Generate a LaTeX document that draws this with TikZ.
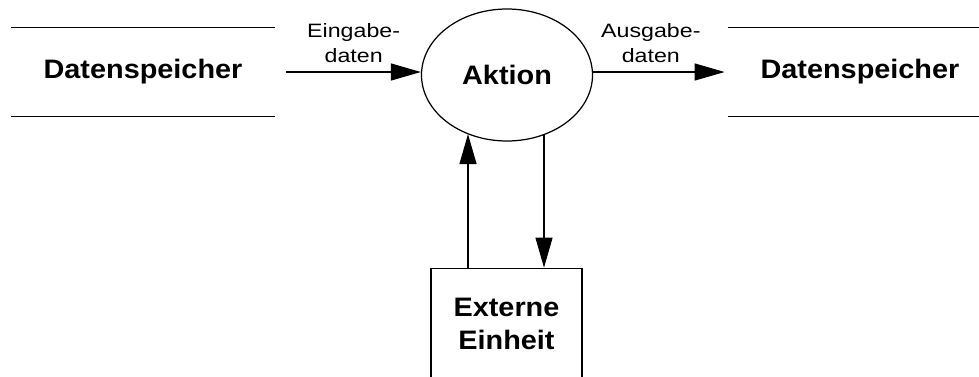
\documentclass[tikz,border=0pt]{standalone}
\usepackage{fontspec}
\setmainfont{Liberation Sans}[FakeStretch=1.08]
\newfontfamily\flowfont{Liberation Sans}[FakeStretch=1.2]
\usetikzlibrary{positioning,shapes.geometric,arrows.meta}

\begin{document}
\begin{tikzpicture}[
store/.style={rectangle,minimum width=5.28cm,minimum height=1.76cm,inner sep=0pt,font=\bfseries\fontsize{15.2}{19}\selectfont},
action/.style={draw,ellipse,minimum width=3.42cm,minimum height=2.64cm,inner sep=0pt,line width=0.7pt,font=\bfseries\fontsize{15.2}{19}\selectfont},
extern/.style={draw,rectangle,minimum width=3.02cm,minimum height=2.24cm,align=center,line width=0.7pt,font=\bfseries\fontsize{15.2}{18.8}\selectfont},
flow/.style={-{Triangle[length=0.6cm,width=0.34cm]},line width=0.7pt},
flowlabel/.style={above,inner sep=5pt,align=center,font=\flowfont\fontsize{11}{14.2}\selectfont}]
\useasboundingbox (0,0) rectangle (19.58,7.52);
\node (act) [action] at (10.14,6.02) {Aktion};
\node (instore) [store,left=2.91cm of act,yshift=0.06cm] {Datenspeicher};
\node (outstore) [store,right=2.69cm of act,yshift=0.06cm] {Datenspeicher};
\node (ext) [extern,below=2.52cm of act,xshift=-0.01cm] {Externe\\Einheit};

% Datenspeicher: nur obere und untere Linie
\foreach \s in {instore,outstore} {
  \draw[line width=0.7pt] (\s.north west) -- (\s.north east);
  \draw[line width=0.7pt] (\s.south west) -- (\s.south east);
}

\draw[flow] ([xshift=2.2mm]instore.east) -- node[flowlabel] {Eingabe-\\daten} (instore.east -| act.west);
\draw[flow] (act.east |- outstore.west) -- node[flowlabel,xshift=-1.6mm] {Ausgabe-\\daten} ([xshift=-0.6mm]outstore.west);
\draw[flow] ([xshift=-7.7mm]ext.north) -- ([xshift=-7.7mm]ext.north |- act.236);
\draw[flow] ([xshift=7.5mm]ext.north |- act.302) -- ([xshift=7.5mm]ext.north);
\end{tikzpicture}
\end{document}
